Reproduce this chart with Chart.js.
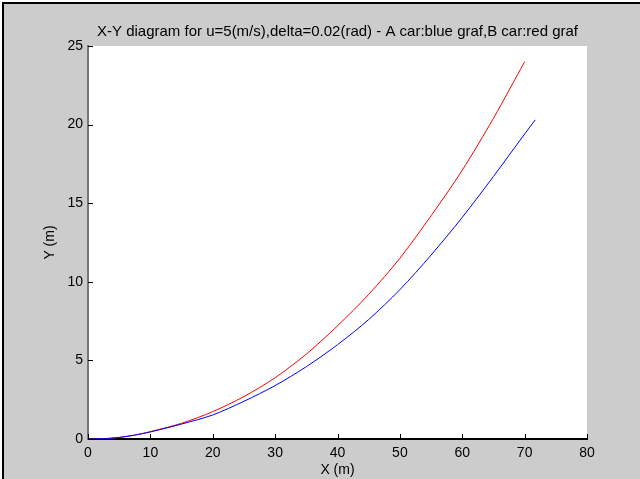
<!DOCTYPE html>
<html>
<head>
<meta charset="utf-8">
<script src="https://cdn.jsdelivr.net/npm/chart.js@4"></script>
<style>
  html, body { margin: 0; padding: 0; background: #fff; }
  #wrap { width: 640px; height: 479px; }
</style>
</head>
<body>
<div id="wrap"><canvas id="xy-chart" width="640" height="479"></canvas></div>
<script>
// car A (blue)
const xA = [0, 2.5, 5, 7.5, 10, 15, 20, 25, 30, 35, 40, 45, 50, 55, 60, 65, 70, 71.7];
const yA = [0, 0.02, 0.1, 0.25, 0.45, 0.95, 1.53, 2.4, 3.4, 4.6, 6.0, 7.6, 9.5, 11.7, 14.1, 16.7, 19.4, 20.3];
// car B (red)
const xB = [0, 2.5, 5, 7.5, 10, 15, 20, 25, 30, 35, 40, 45, 50, 55, 60, 65, 70];
const yB = [0, 0.02, 0.1, 0.25, 0.47, 1.0, 1.74, 2.7, 3.9, 5.4, 7.2, 9.2, 11.5, 14.2, 17.1, 20.4, 24.0];

const xTicks = [0, 10, 20, 30, 40, 50, 60, 70, 80];
const yTicks = [0, 5, 10, 15, 20, 25];

const toPoints = (xs, ys) => xs.map((x, i) => ({ x: x, y: ys[i] }));

const fontFamily = '"Liberation Sans", Arial, sans-serif';

const matlabLook = {
	id: 'matlabLook',
	beforeDraw(chart) {
		const c = chart.ctx;
		const a = chart.chartArea;
		c.save();
		c.fillStyle = '#ffffff';
		c.fillRect(0, 0, chart.width, chart.height);
		c.fillStyle = '#000000';
		c.fillRect(2, 2, chart.width, chart.height);
		c.fillStyle = '#cccccc';
		c.fillRect(4, 4, chart.width, chart.height);
		c.fillStyle = '#ffffff';
		c.fillRect(a.left, a.top, a.right - a.left, a.bottom - a.top);
		c.restore();
	},
	afterDraw(chart) {
		// inward tick marks
		const c = chart.ctx;
		const a = chart.chartArea;
		const sx = chart.scales.x;
		const sy = chart.scales.y;
		c.save();
		c.lineWidth = 1;
		c.strokeStyle = '#000000';
		c.beginPath();
		xTicks.forEach(v => {
			const px = Math.round(sx.getPixelForValue(v)) + 0.5;
			c.moveTo(px, a.bottom);
			c.lineTo(px, a.bottom - 5);
		});
		yTicks.forEach(v => {
			const py = Math.round(sy.getPixelForValue(v)) + 0.5;
			c.moveTo(a.left, py);
			c.lineTo(a.left + 5, py);
		});
		c.stroke();
		c.restore();
	}
};

new Chart(document.querySelector('#xy-chart'), {
	type: 'scatter',
	data: {
		datasets: [
			{
				label: 'A car',
				data: toPoints(xA, yA),
				showLine: true,
				borderColor: '#0000ff',
				backgroundColor: '#0000ff',
				borderWidth: 1,
				pointRadius: 0,
				tension: 0.3
			},
			{
				label: 'B car',
				data: toPoints(xB, yB),
				showLine: true,
				borderColor: '#ff0000',
				backgroundColor: '#ff0000',
				borderWidth: 1,
				pointRadius: 0,
				tension: 0.3
			}
		]
	},
	options: {
		responsive: false,
		animation: false,
		layout: { padding: { left: 0, right: 53, top: 0, bottom: 0 } },
		plugins: {
			legend: { display: false },
			tooltip: { enabled: false },
			title: {
				display: true,
				fullSize: false,
				text: 'X-Y diagram for u=5(m/s),delta=0.02(rad) - A car:blue graf,B car:red graf',
				color: '#000000',
				font: { family: fontFamily, size: 15, weight: 'normal', lineHeight: 1.2 },
				padding: { top: 23, bottom: 5 }
			}
		},
		scales: {
			x: {
				type: 'linear',
				min: 0,
				max: 80,
				afterBuildTicks(scale) { scale.ticks = xTicks.map(v => ({ value: v })); },
				afterFit(scale) { scale.height = 40; },
				grid: { display: false, drawTicks: false },
				border: { display: true, color: '#000000', width: 2 },
				ticks: {
					color: '#000000',
					padding: 6,
					maxRotation: 0,
					font: { family: fontFamily, size: 14 }
				},
				title: {
					display: true,
					text: 'X (m)',
					color: '#000000',
					font: { family: fontFamily, size: 14, lineHeight: 1.2 },
					padding: { top: 0, bottom: 0 }
				}
			},
			y: {
				type: 'linear',
				min: 0,
				max: 25,
				afterBuildTicks(scale) { scale.ticks = yTicks.map(v => ({ value: v })); },
				afterFit(scale) { scale.width = 88; },
				grid: { display: false, drawTicks: false },
				border: { display: true, color: '#777777', width: 2 },
				ticks: {
					color: '#000000',
					padding: 5,
					font: { family: fontFamily, size: 14 }
				},
				title: {
					display: true,
					text: 'Y (m)',
					color: '#000000',
					font: { family: fontFamily, size: 14, lineHeight: 1.2 },
					padding: { top: 42, bottom: 0 }
				}
			}
		}
	},
	plugins: [matlabLook]
});
</script>
</body>
</html>
